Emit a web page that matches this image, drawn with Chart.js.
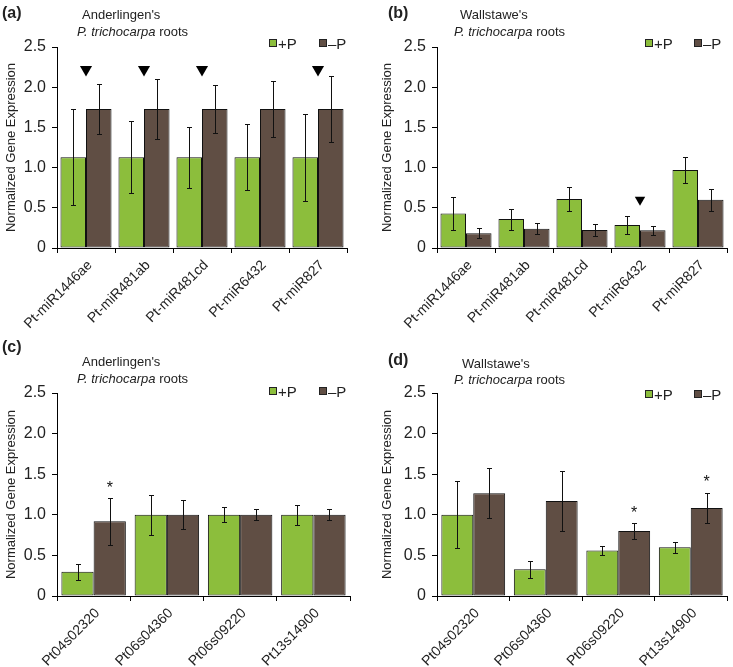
<!DOCTYPE html>
<html>
<head>
<meta charset="utf-8">
<script src="https://cdn.jsdelivr.net/npm/chart.js@4.4.1/dist/chart.umd.min.js"></script>
<style>
  body { margin: 0; background: #fff; font-family: "Liberation Sans", Arial, sans-serif; color: #222; }
  #page { position: relative; width: 733px; height: 667px; overflow: hidden; }
  canvas { position: absolute; }
  .t { position: absolute; white-space: nowrap; line-height: 1; }
  .tag { font-weight: bold; font-size: 16px; }
  .sub { font-size: 13px; }
  .key { position: absolute; width: 6px; height: 6px; border: 1px solid #222; }
  .keytext { position: absolute; font-size: 15px; line-height: 1; white-space: nowrap; }
</style>
</head>
<body>
<div id="page"></div>
<script>
// ---- data ----
const mirLabels = ["Pt-miR1446ae", "Pt-miR481ab", "Pt-miR481cd", "Pt-miR6432", "Pt-miR827"];
const geneLabels = ["Pt04s02320", "Pt06s04360", "Pt06s09220", "Pt13s14900"];
const yTicks = [0, 0.5, 1, 1.5, 2, 2.5];
const seriesNames = ["+P", "\u2013P"];

// (a) Anderlingen's, miRNAs
const aPlus = [1.13, 1.13, 1.13, 1.13, 1.13];
const aPlusErr = [0.60, 0.45, 0.38, 0.41, 0.54];
const aMinus = [1.73, 1.73, 1.73, 1.73, 1.73];
const aMinusErr = [0.31, 0.37, 0.30, 0.35, 0.41];
const aTriangles = [2.22, 2.22, 2.22, null, 2.22];

// (b) Wallstawe's, miRNAs
const bPlus = [0.43, 0.36, 0.61, 0.285, 0.97];
const bPlusErr = [0.21, 0.13, 0.15, 0.115, 0.165];
const bMinus = [0.185, 0.24, 0.225, 0.22, 0.60];
const bMinusErr = [0.065, 0.07, 0.075, 0.055, 0.135];
const bTriangles = [null, null, null, 0.6, null];

// (c) Anderlingen's, target genes
const cPlus = [0.30, 1.0, 1.0, 1.0];
const cPlusErr = [0.10, 0.25, 0.09, 0.12];
const cMinus = [0.92, 1.0, 1.0, 1.0];
const cMinusErr = [0.29, 0.18, 0.07, 0.07];
const cStars = [1.37, null, null, null];

// (d) Wallstawe's, target genes
const dPlus = [1.0, 0.33, 0.56, 0.60];
const dPlusErr = [0.415, 0.105, 0.06, 0.065];
const dMinus = [1.265, 1.17, 0.80, 1.085];
const dMinusErr = [0.31, 0.37, 0.10, 0.18];
const dStars = [null, null, 1.06, 1.44];

const GREEN = "#8cbe3c";
const BROWN = "#604e44";
const INK = "#222";

// error bars + significance asterisks, placed with the y scale
const errorBars = {
  id: "errorBars",
  afterDatasetsDraw(chart) {
    const ctx = chart.ctx;
    const y = chart.scales.y;
    chart.data.datasets.forEach((ds, i) => {
      if (!ds.errors) return;
      const meta = chart.getDatasetMeta(i);
      meta.data.forEach((bar, j) => {
        const v = ds.data[j], e = ds.errors[j];
        if (v == null) return;
        const x = Math.round(bar.x) + 0.5;
        const top = Math.round(y.getPixelForValue(v + e)) + 0.5;
        const bot = Math.round(y.getPixelForValue(v - e)) + 0.5;
        ctx.save();
        ctx.strokeStyle = "#111";
        ctx.lineWidth = 1;
        ctx.beginPath();
        ctx.moveTo(x, top); ctx.lineTo(x, bot);
        ctx.moveTo(x - 2.5, top); ctx.lineTo(x + 2.5, top);
        ctx.moveTo(x - 2.5, bot); ctx.lineTo(x + 2.5, bot);
        ctx.stroke();
        if (ds.stars && ds.stars[j] != null) {
          ctx.fillStyle = "#111";
          ctx.font = "16px 'Liberation Sans', Arial, sans-serif";
          ctx.textAlign = "center";
          ctx.textBaseline = "middle";
          ctx.fillText("*", bar.x, y.getPixelForValue(ds.stars[j]) + 4);
        }
        ctx.restore();
      });
    });
  }
};

const page = document.getElementById("page");

function addText(cls, text, left, cy, size, html) {
  const d = document.createElement("div");
  d.className = "t " + cls;
  if (html) d.innerHTML = text; else d.textContent = text;
  d.style.left = left + "px";
  d.style.top = (cy - size / 2) + "px";
  page.appendChild(d);
}

function addLegend(gx, bx, top) {
  [[gx, GREEN, seriesNames[0]], [bx, BROWN, seriesNames[1]]].forEach(([x, col, name]) => {
    const k = document.createElement("div");
    k.className = "key";
    k.style.left = x + "px"; k.style.top = top + "px"; k.style.background = col;
    page.appendChild(k);
    const t = document.createElement("div");
    t.className = "keytext";
    t.textContent = name;
    t.style.left = (x + 9) + "px"; t.style.top = (top - 3) + "px";
    page.appendChild(t);
  });
}

function drawPanel(p) {
  const canvas = document.createElement("canvas");
  canvas.width = p.w; canvas.height = p.h;
  canvas.style.left = p.x + "px"; canvas.style.top = p.y + "px";
  page.appendChild(canvas);

  const datasets = [
    { label: seriesNames[0], data: p.plus, errors: p.plusErr, backgroundColor: GREEN,
      borderColor: "#111", borderWidth: 1, borderSkipped: false,
      categoryPercentage: 0.88, barPercentage: 1, order: 2 },
    { label: seriesNames[1], data: p.minus, errors: p.minusErr, stars: p.stars, backgroundColor: BROWN,
      borderColor: "#111", borderWidth: 1, borderSkipped: false,
      categoryPercentage: 0.88, barPercentage: 1, order: 2 }
  ];
  if (p.triangles) {
    datasets.push({ type: "line", data: p.triangles, showLine: false, pointStyle: "triangle",
      rotation: 180, pointRadius: p.triR, backgroundColor: "#000", borderColor: "#000",
      borderWidth: 0, order: 0 });
  }

  new Chart(canvas, {
    type: "bar",
    data: { labels: p.labels, datasets },
    options: {
      responsive: false,
      animation: false,
      devicePixelRatio: 1,
      events: [],
      layout: { padding: { top: p.padTop, right: p.padRight, left: 0, bottom: 0 } },
      plugins: { legend: { display: false }, tooltip: { enabled: false } },
      scales: {
        x: {
          grid: { offset: true, drawOnChartArea: false, drawTicks: true, tickLength: 5, color: "#000" },
          border: { color: "#000", width: 1 },
          ticks: { maxRotation: 45, minRotation: 45, padding: 4, labelOffset: 4, color: INK,
            font: { family: "'Liberation Sans', Arial, sans-serif", size: 14 } },
          afterFit: (s) => { s.height = p.xH; }
        },
        y: {
          min: 0, max: 2.5,
          afterBuildTicks: (s) => { s.ticks = yTicks.map((v) => ({ value: v })); },
          grid: { drawOnChartArea: false, drawTicks: true, tickLength: 5, color: "#000" },
          border: { color: "#000", width: 1 },
          ticks: { padding: 6, color: INK,
            font: { family: "'Liberation Sans', Arial, sans-serif", size: 16 },
            callback: (v) => (v === 0 ? "0" : Number(v).toFixed(1)) },
          title: { display: true, text: "Normalized Gene Expression", color: INK,
            padding: { top: p.titlePad, bottom: 0 },
            font: { family: "'Liberation Sans', Arial, sans-serif", size: 13 } },
          afterFit: (s) => { s.width = p.yW; }
        }
      }
    },
    plugins: [errorBars]
  });

  addText("tag", p.tag, p.tagX, p.tagY, 16);
  addText("sub", p.line1, p.l1X, p.l1Y, 13);
  addText("sub", "<i>P. trichocarpa</i> roots", p.l2X, p.l2Y, 13, true);
  addLegend(p.keyG, p.keyB, p.keyTop);
}

drawPanel({ x: 0, y: 0, w: 366, h: 330, padTop: 47, padRight: 19, yW: 57, xH: 82, titlePad: 4,
  labels: mirLabels, plus: aPlus, plusErr: aPlusErr, minus: aMinus, minusErr: aMinusErr,
  triangles: aTriangles, triR: 7,
  tag: "(a)", tagX: 2, tagY: 13, line1: "Anderlingen's", l1X: 82, l1Y: 14, l2X: 77, l2Y: 31,
  keyG: 269, keyB: 319, keyTop: 39 });

drawPanel({ x: 366, y: 0, w: 367, h: 330, padTop: 47, padRight: 2, yW: 71, xH: 82, titlePad: 14,
  labels: mirLabels, plus: bPlus, plusErr: bPlusErr, minus: bMinus, minusErr: bMinusErr,
  triangles: bTriangles, triR: 6,
  tag: "(b)", tagX: 388, tagY: 13, line1: "Wallstawe's", l1X: 460, l1Y: 14, l2X: 454, l2Y: 31,
  keyG: 645, keyB: 694, keyTop: 39 });

drawPanel({ x: 0, y: 330, w: 366, h: 337, padTop: 63, padRight: 16, yW: 57, xH: 71, titlePad: 4,
  labels: geneLabels, plus: cPlus, plusErr: cPlusErr, minus: cMinus, minusErr: cMinusErr,
  stars: cStars,
  tag: "(c)", tagX: 2, tagY: 347, line1: "Anderlingen's", l1X: 82, l1Y: 361, l2X: 77, l2Y: 378,
  keyG: 269, keyB: 319, keyTop: 387 });

drawPanel({ x: 366, y: 330, w: 367, h: 337, padTop: 63, padRight: 6, yW: 71, xH: 71, titlePad: 14,
  labels: geneLabels, plus: dPlus, plusErr: dPlusErr, minus: dMinus, minusErr: dMinusErr,
  stars: dStars,
  tag: "(d)", tagX: 388, tagY: 360, line1: "Wallstawe's", l1X: 462, l1Y: 363, l2X: 454, l2Y: 379,
  keyG: 645, keyB: 694, keyTop: 390 });
</script>
</body>
</html>
